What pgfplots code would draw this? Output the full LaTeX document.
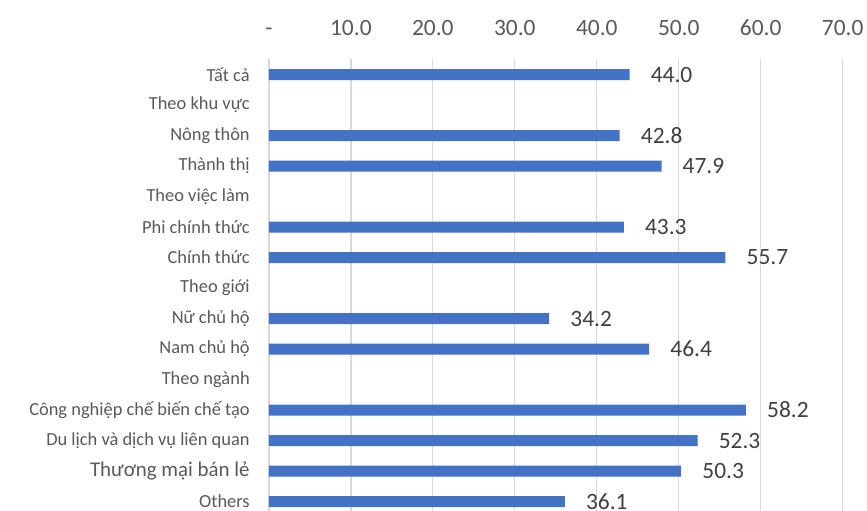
\documentclass[border=0pt]{standalone}
\usepackage{fontspec}
\setmainfont{Carlito}
\usepackage{pgfplots}
\pgfplotsset{compat=1.18}
\definecolor{barblue}{HTML}{4472C4}
\definecolor{gridgray}{HTML}{D9D9D9}
\definecolor{labgray}{HTML}{595959}
\definecolor{valgray}{HTML}{404040}
\begin{document}
\begin{tikzpicture}
\begin{axis}[
  scale only axis,
  width=573.8bp, height=451.75bp,
  xbar, bar width=11bp,
  xmin=0, xmax=70,
  ymin=-0.5, ymax=14.31,
  y dir=reverse,
  enlargelimits=false,
  axis line style={draw=none},
  major tick length=0pt,
  xtick={0,10,...,70},
  xticklabels={-,10.0,20.0,30.0,40.0,50.0,60.0,70.0},
  xticklabel pos=upper,
  xticklabel style={font=\fontsize{23.5}{24}\selectfont, text=labgray, inner sep=0pt, anchor=south, yshift=23.5bp},
  ytick={0,...,14},
  yticklabels={Tất cả, Theo khu vực, Nông thôn, Thành thị, Theo việc làm, Phi chính thức, Chính thức, Theo giới, Nữ chủ hộ, Nam chủ hộ, Theo ngành, Công nghiệp chế biến chế tạo, Du lịch và dịch vụ liên quan, {\fontsize{21}{21}\selectfont Thương mại bán lẻ}, Others},
  yticklabel style={font=\fontsize{18.5}{19}\selectfont, text=labgray, inner sep=0pt, anchor=east, xshift=-19bp},
  xmajorgrids,
  grid style={draw=gridgray, line width=1.3bp},
  clip=false,
  point meta=x,
  nodes near coords,
  nodes near coords style={font=\fontsize{23.5}{24}\selectfont, text=valgray, anchor=west, inner sep=0pt, xshift=21bp},
  /pgf/number format/.cd, fixed, zerofill, precision=1, assume math mode=true,
]
\addplot[fill=barblue, draw=none] coordinates {
  (44.0,0) (42.8,2) (47.9,3) (43.3,5) (55.7,6) (34.2,8) (46.4,9)
  (58.2,11) (52.3,12) (50.3,13) (36.1,14)
};
\end{axis}
\pgfresetboundingbox
\path[use as bounding box] ([shift={(-268.9bp,0bp)}]current axis.south west) rectangle ([shift={(24.3bp,59.25bp)}]current axis.north east);
\end{tikzpicture}
\end{document}
